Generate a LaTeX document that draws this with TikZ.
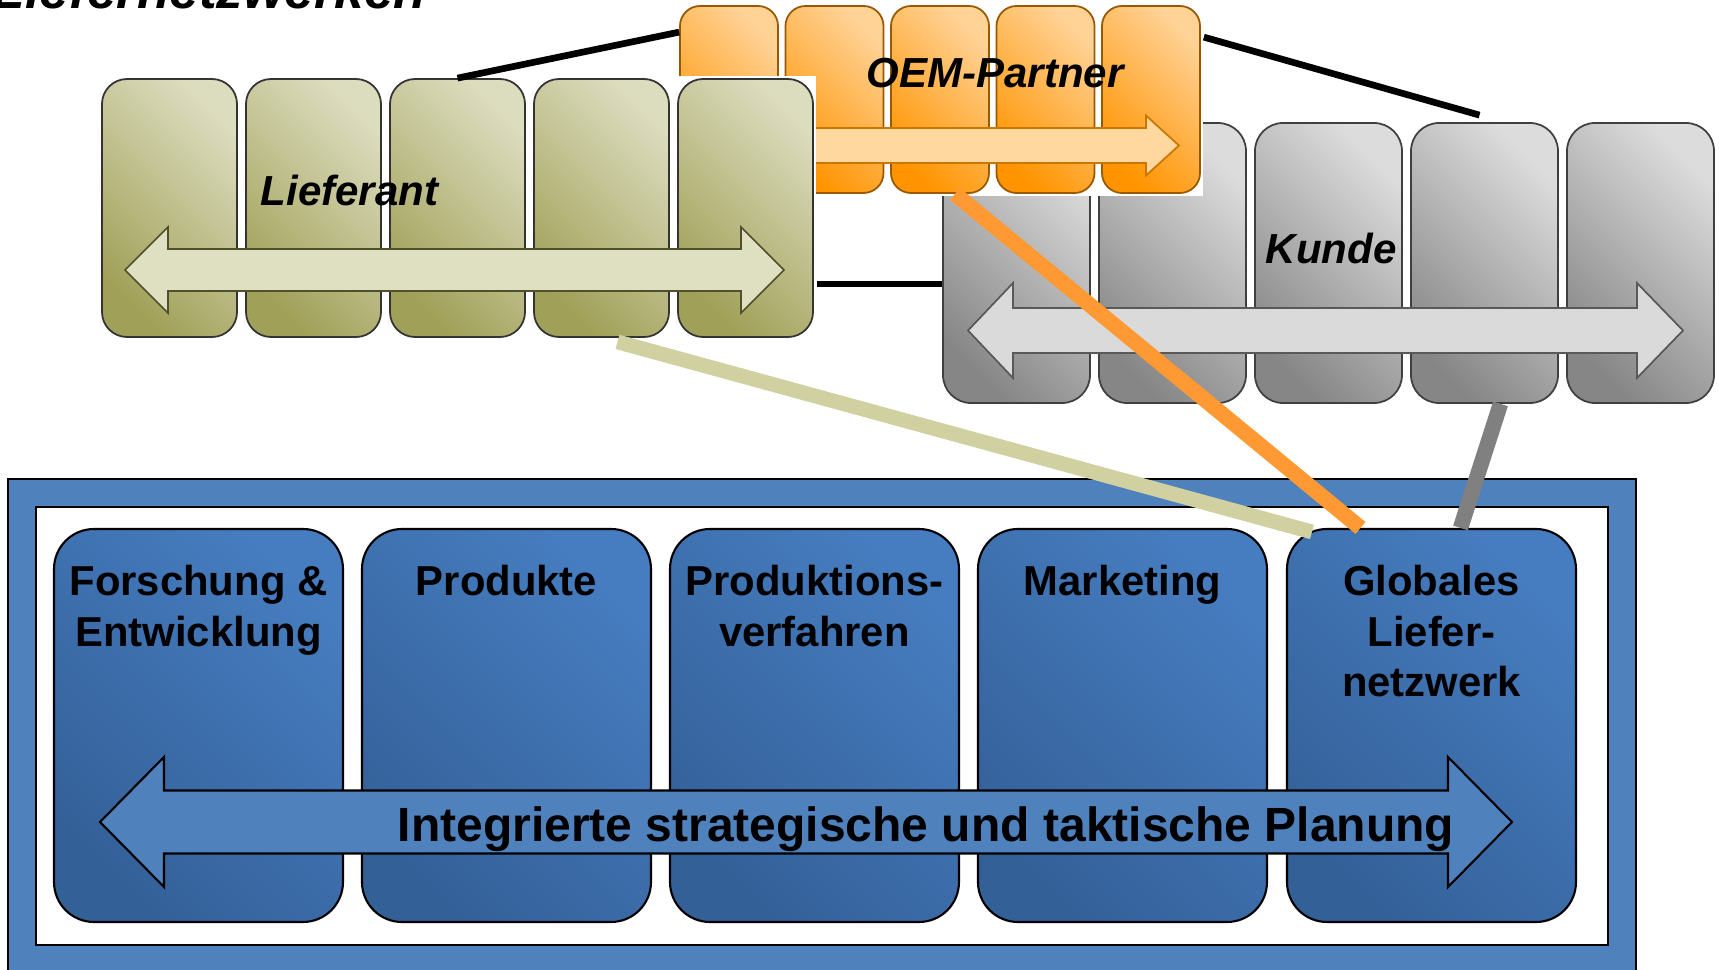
\documentclass[tikz,border=0pt]{standalone}
\usepackage{fontspec}
\setmainfont{Liberation Sans}
\usetikzlibrary{positioning,calc}
\definecolor{myblue}{RGB}{79,129,189}
\definecolor{boxbluedark}{RGB}{52,96,152}
\definecolor{boxbluelight}{RGB}{70,125,192}
\definecolor{olivedark}{RGB}{160,160,88}
\definecolor{olivelight}{RGB}{220,220,190}
\definecolor{olivearrow}{RGB}{223,223,194}
\definecolor{orangedark}{RGB}{255,148,0}
\definecolor{orangelight}{RGB}{255,210,150}
\definecolor{orangearrow}{RGB}{255,216,160}
\definecolor{greydark}{RGB}{134,134,134}
\definecolor{greylight}{RGB}{220,220,220}
\definecolor{greyarrow}{RGB}{218,218,218}
\definecolor{mybeige}{RGB}{208,208,160}
\definecolor{myorange}{RGB}{255,153,51}
\definecolor{mygrey}{RGB}{128,128,128}

\tikzset{
    grp/.style={rectangle, fill=white, inner sep=0pt},
    lbox/.style={rectangle, draw=black!80, line width=0.5pt, inner sep=0pt,
        minimum width=1.35cm, minimum height=2.58cm, rounded corners=0.25cm,
        top color=olivelight, bottom color=olivedark, shading angle=-45},
    obox/.style={rectangle, draw=orangedark!60!black, line width=0.5pt, inner sep=0pt,
        minimum width=0.98cm, minimum height=1.87cm, rounded corners=0.2cm,
        top color=orangelight, bottom color=orangedark, shading angle=-45},
    kbox/.style={rectangle, draw=black!75, line width=0.5pt, inner sep=0pt,
        minimum width=1.47cm, minimum height=2.80cm, rounded corners=0.28cm,
        top color=greylight, bottom color=greydark, shading angle=-45},
    gbox/.style={rectangle, draw=black, line width=0.6pt, inner sep=0pt,
        minimum width=2.89cm, minimum height=3.93cm, rounded corners=0.4cm,
        top color=boxbluelight, bottom color=boxbluedark, shading angle=-45},
    larrow/.style={draw=olivedark!50!black, fill=olivearrow, line width=0.5pt},
    oarrow/.style={draw=orangedark!80!black, fill=orangearrow, line width=0.5pt},
    karrow/.style={draw=black!65, fill=greyarrow, line width=0.5pt},
    barrow/.style={draw=black, fill=myblue, line width=0.6pt},
    grouplabel/.style={anchor=base west, inner sep=0pt,
        font=\fontsize{11.95}{14}\selectfont\bfseries\itshape},
    gtext/.style={anchor=north, inner sep=0pt, align=center,
        font=\fontsize{11.9}{14.4}\selectfont\bfseries},
    blackconn/.style={line width=1.9pt, black},
    beigeconn/.style={line width=4.2pt, mybeige},
    orangeconn/.style={line width=4.4pt, myorange},
    greyconn/.style={line width=4.4pt, mygrey},
}

\begin{document}
\begin{tikzpicture}[x=1cm, y=-1cm]
    \useasboundingbox (0, 0) rectangle (17.19, 9.70);
    % Kunde
    \node[grp, minimum width=7.80cm, minimum height=2.89cm] (kgrp) at (13.29, 2.625) {};
    \node[kbox] (k1) at (10.165, 2.63) {};
    \node[kbox] (k2) at (11.725, 2.63) {};
    \node[kbox] (k3) at (13.285, 2.63) {};
    \node[kbox] (k4) at (14.845, 2.63) {};
    \node[kbox] (k5) at (16.405, 2.63) {};
    \draw[karrow] (9.68, 3.305) -- (10.13, 2.83) -- (10.13, 3.08) -- (16.37, 3.08)
        -- (16.37, 2.83) -- (16.83, 3.305) -- (16.37, 3.78) -- (16.37, 3.53)
        -- (10.13, 3.53) -- (10.13, 3.78) -- cycle;
    \node[grouplabel] (klabel) at (12.65, 2.63) {Kunde};

    % Unternehmen
    \draw[fill=myblue, line width=0.6pt] (0.08, 4.79) rectangle (16.36, 10.2);
    \draw[fill=white, line width=0.6pt] (0.36, 5.07) rectangle (16.08, 9.45);
    \node[gbox] (g1) at (1.985, 7.255) {};
    \node[gbox] (g2) at (5.065, 7.255) {};
    \node[gbox] (g3) at (8.145, 7.255) {};
    \node[gbox] (g4) at (11.225, 7.255) {};
    \node[gbox] (g5) at (14.315, 7.255) {};
    \node[gtext, below=0.365cm of g1.north] (t1) {Forschung \&\\Entwicklung};
    \node[gtext, below=0.365cm of g2.north] (t2) {Produkte};
    \node[gtext, below=0.365cm of g3.north] (t3) {Produktions-\\verfahren};
    \node[gtext, below=0.365cm of g4.north] (t4) {Marketing};
    \node[gtext, below=0.365cm of g5.north] (t5) {Globales\\Liefer-\\netzwerk};
    \draw[barrow] (1.00, 8.22) -- (1.64, 7.57) -- (1.64, 7.905) -- (14.48, 7.905)
        -- (14.48, 7.57) -- (15.12, 8.22) -- (14.48, 8.87) -- (14.48, 8.535)
        -- (1.64, 8.535) -- (1.64, 8.87) -- cycle;
    \node[anchor=base, inner sep=0pt, font=\fontsize{13.66}{16}\selectfont\bfseries] (plan)
        at (9.26, 8.41) {Integrierte strategische und taktische Planung};

    % OEM-Partner
    \node[grp, minimum width=5.27cm, minimum height=1.94cm] (ogrp) at (9.395, 0.99) {};
    \node[obox] (o1) at (7.29, 0.995) {};
    \node[obox] (o2) at (8.345, 0.995) {};
    \node[obox] (o3) at (9.40, 0.995) {};
    \node[obox] (o4) at (10.455, 0.995) {};
    \node[obox] (o5) at (11.51, 0.995) {};
    \draw[oarrow] (7.0, 1.28) -- (11.46, 1.28) -- (11.46, 1.155) -- (11.79, 1.455)
        -- (11.46, 1.755) -- (11.46, 1.63) -- (7.0, 1.63) -- cycle;
    \node[grouplabel] (olabel) at (8.66, 0.87) {OEM-Partner};

    % Lieferant
    \node[grp, minimum width=7.18cm, minimum height=2.65cm] (lgrp) at (4.57, 2.085) {};
    \node[lbox] (l1) at (1.695, 2.08) {};
    \node[lbox] (l2) at (3.135, 2.08) {};
    \node[lbox] (l3) at (4.575, 2.08) {};
    \node[lbox] (l4) at (6.015, 2.08) {};
    \node[lbox] (l5) at (7.455, 2.08) {};
    \draw[larrow] (1.25, 2.70) -- (1.68, 2.27) -- (1.68, 2.49) -- (7.41, 2.49)
        -- (7.41, 2.27) -- (7.84, 2.70) -- (7.41, 3.13) -- (7.41, 2.91)
        -- (1.68, 2.91) -- (1.68, 3.13) -- cycle;
    \node[grouplabel] (llabel) at (2.60, 2.05) {Lieferant};

    % Verbindungen
    \draw[blackconn] (l3.north) -- ($(o1.north west)+(0, 0.27)$);
    \draw[blackconn] ($(o5.north east)+(0.03, 0.32)$) -- ($(k4.north)+(-0.05, -0.07)$);
    \coordinate (lk) at ($(lgrp.east)+(0, 0.755)$);
    \draw[blackconn] (lk) -- (lk -| k1.west);
    \draw[beigeconn] ($(l4.south)+(0.16, 0.04)$) -- ($(g5.north west)+(0.26, 0.04)$);
    \draw[orangeconn] ($(o3.south)+(0.15, 0)$) -- ($(g5.north)+(-0.71, 0)$);
    \draw[greyconn] ($(k4.south)+(0.16, 0)$) -- ($(g5.north)+(0.29, 0)$);

    % Titel
    \node[anchor=base west, inner sep=0pt, font=\fontsize{15.1}{18}\selectfont\bfseries\itshape]
        (title) at (-0.08, 0.09) {Liefernetzwerken};
\end{tikzpicture}
\end{document}
